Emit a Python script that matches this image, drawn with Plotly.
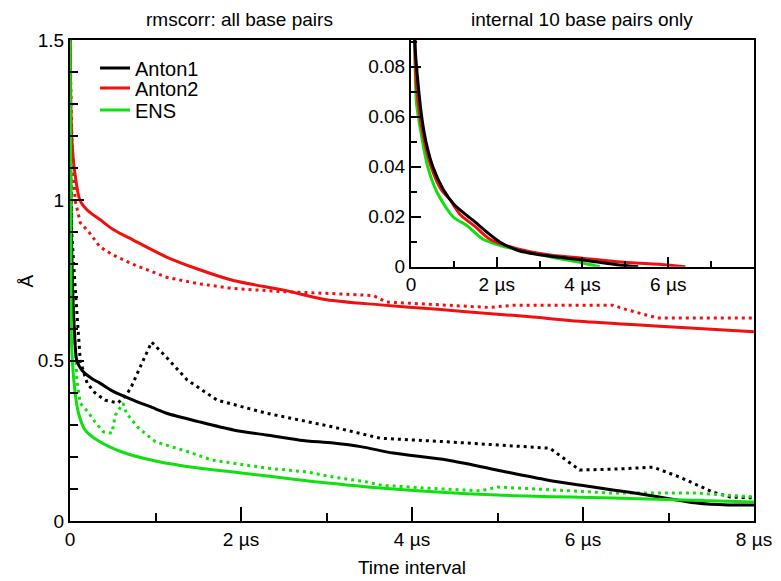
import plotly.graph_objects as go

# ---------------- data ----------------
# Main panel: rmscorr, all base pairs (x in microseconds, y in Angstrom)
anton1_x = [0, 0.01, 0.03, 0.05, 0.08, 0.14, 0.25, 0.35, 0.5, 0.74, 1.0, 1.13, 1.5, 1.91, 2.3, 2.69, 3.08, 3.4, 3.78, 4.41, 4.99, 5.58, 5.96, 6.35, 6.75, 7.33, 7.7, 8.0]
anton1_y = [1.5, 1.0, 0.72, 0.6, 0.5, 0.47, 0.445, 0.43, 0.405, 0.377, 0.35, 0.336, 0.31, 0.284, 0.268, 0.252, 0.243, 0.232, 0.212, 0.19, 0.159, 0.128, 0.112, 0.097, 0.081, 0.056, 0.05, 0.05]

anton1_dot_x = [0, 0.02, 0.06, 0.08, 0.12, 0.2, 0.29, 0.41, 0.56, 0.66, 0.72, 0.82, 0.955, 1.13, 1.37, 1.72, 2.3, 3.08, 3.63, 4.41, 5.61, 5.7, 5.96, 6.4, 6.82, 7.13, 7.52, 7.72, 8.0]
anton1_dot_y = [1.2, 0.9, 0.73, 0.65, 0.5, 0.43, 0.40, 0.377, 0.368, 0.393, 0.42, 0.48, 0.558, 0.51, 0.44, 0.377, 0.336, 0.293, 0.258, 0.247, 0.227, 0.21, 0.159, 0.162, 0.168, 0.137, 0.09, 0.075, 0.072]

anton2_x = [0, 0.02, 0.05, 0.117, 0.2, 0.35, 0.5, 0.74, 1.13, 1.5, 1.91, 2.5, 3.0, 3.63, 4.3, 5.0, 5.38, 5.96, 7.0, 8.0]
anton2_y = [1.5, 1.2, 1.1, 1.0, 0.97, 0.94, 0.91, 0.876, 0.823, 0.785, 0.75, 0.72, 0.69, 0.674, 0.66, 0.645, 0.637, 0.623, 0.606, 0.59]

anton2_dot_x = [0, 0.02, 0.06, 0.12, 0.23, 0.35, 0.5, 0.74, 1.13, 1.5, 1.91, 2.5, 3.0, 3.55, 3.7, 4.4, 4.9, 5.2, 6.35, 6.5, 6.87, 8.0]
anton2_dot_y = [1.5, 1.2, 1.0, 0.93, 0.898, 0.855, 0.83, 0.80, 0.76, 0.74, 0.725, 0.715, 0.71, 0.703, 0.683, 0.673, 0.666, 0.673, 0.673, 0.66, 0.633, 0.633]

ens_x = [0, 0.01, 0.02, 0.06, 0.1, 0.175, 0.33, 0.6, 1.0, 1.5, 1.91, 2.69, 3.63, 5.0, 6.35, 8.0]
ens_y = [1.5, 0.9, 0.54, 0.40, 0.336, 0.284, 0.25, 0.216, 0.187, 0.165, 0.153, 0.128, 0.103, 0.081, 0.072, 0.059]

ens_dot_x = [0, 0.02, 0.08, 0.12, 0.21, 0.29, 0.39, 0.49, 0.53, 0.62, 0.66, 0.8, 1.0, 1.38, 1.66, 2.3, 2.77, 3.08, 3.47, 3.63, 4.13, 4.8, 5.0, 6.35, 7.33, 8.0]
ens_dot_y = [1.5, 0.8, 0.44, 0.367, 0.34, 0.31, 0.278, 0.274, 0.33, 0.367, 0.336, 0.29, 0.247, 0.216, 0.19, 0.165, 0.153, 0.137, 0.122, 0.112, 0.103, 0.094, 0.106, 0.087, 0.087, 0.075]

# Inset: internal 10 base pairs only
in_anton1_x = [0, 0.09, 0.13, 0.25, 0.35, 0.51, 0.75, 1.0, 1.45, 2.08, 2.5, 3.0, 4.0, 4.8, 5.3]
in_anton1_y = [0.2, 0.09, 0.08, 0.06, 0.05, 0.04, 0.031, 0.025, 0.0185, 0.0098, 0.0065, 0.0048, 0.0027, 0.0008, 0.0]
in_anton2_x = [0, 0.09, 0.13, 0.28, 0.47, 0.7, 0.9, 1.14, 1.5, 1.84, 2.47, 3.24, 4.0, 4.8, 5.97, 6.4]
in_anton2_y = [0.2, 0.09, 0.072, 0.053, 0.04, 0.031, 0.027, 0.021, 0.016, 0.011, 0.0072, 0.0047, 0.0034, 0.002, 0.0007, 0.0]
in_ens_x = [0, 0.09, 0.13, 0.25, 0.39, 0.6, 0.98, 1.3, 1.68, 2.08, 3.24, 4.0, 4.4]
in_ens_y = [0.2, 0.085, 0.065, 0.052, 0.04, 0.03, 0.02, 0.0165, 0.011, 0.0085, 0.004, 0.0015, 0.0]

main_xticks = [0, 2, 4, 6, 8]
main_xlabels = ["0", "2 µs", "4 µs", "6 µs", "8 µs"]
main_yticks = [0, 0.5, 1, 1.5]
main_ylabels = ["0", "0.5", "1", "1.5"]
inset_xticks = [0, 2, 4, 6]
inset_xlabels = ["0", "2 µs", "4 µs", "6 µs"]
inset_yticks = [0, 0.02, 0.04, 0.06, 0.08]
inset_ylabels = ["0", "0.02", "0.04", "0.06", "0.08"]

BLACK = "#000000"
RED = "#f01010"
GREEN = "#10e010"
FONT = "Liberation Sans, Arial, sans-serif"
DOT = "3px,4px"

fig = go.Figure()

def add(x, y, color, name=None, dash="solid", xa="x", ya="y", legend=None, shape="spline"):
    fig.add_trace(go.Scatter(
        x=x, y=y, mode="lines", name=name, showlegend=legend is not None,
        legend=legend if legend else "legend",
        line=dict(color=color, width=3, dash=dash, shape=shape, smoothing=0.8),
        xaxis=xa, yaxis=ya, hoverinfo="skip"))

# main panel
add(anton1_dot_x, anton1_dot_y, BLACK, dash=DOT, shape="linear")
add(anton2_dot_x, anton2_dot_y, RED, dash=DOT, shape="linear")
add(ens_dot_x, ens_dot_y, GREEN, dash=DOT, shape="linear")
add(anton1_x, anton1_y, BLACK, name="Anton1", legend="legend")
add(anton2_x, anton2_y, RED, name="Anton2", legend="legend2")
add(ens_x, ens_y, GREEN, name="ENS", legend="legend3")

# inset
add(in_ens_x, in_ens_y, GREEN, xa="x2", ya="y2")
add(in_anton2_x, in_anton2_y, RED, xa="x2", ya="y2")
add(in_anton1_x, in_anton1_y, BLACK, xa="x2", ya="y2")

TICKFONT = dict(family=FONT, size=19, color="black")
axis_common = dict(showgrid=False, zeroline=False, showline=True, linecolor="black",
                   linewidth=2, mirror=True, ticks="inside", tickwidth=2, tickcolor="black",
                   tickfont=TICKFONT, automargin=False)

def leg(y):
    return dict(x=0.0366, y=y, xanchor="left", yanchor="middle",
                bgcolor="rgba(0,0,0,0)", font=dict(family=FONT, size=20), itemwidth=30)

# the page body adds an 8px offset, so the figure is 773x573 inside the 781x581 window
fig.update_layout(
    width=773, height=573,
    margin=dict(l=62, r=27, t=32, b=60),
    paper_bgcolor="white", plot_bgcolor="white",
    font=dict(family=FONT, size=19, color="black"),
    showlegend=True,
    legend=leg(0.9418),
    legend2=leg(0.9002),
    legend3=leg(0.8545),
    xaxis=dict(domain=[0, 1], range=[0, 8], tickvals=main_xticks, ticktext=main_xlabels,
               ticklen=14, minor=dict(ticks="inside", ticklen=8, tickwidth=2, dtick=1, tickcolor="black"),
               title=dict(text="Time interval", font=dict(family=FONT, size=19), standoff=12),
               anchor="y", **axis_common),
    yaxis=dict(domain=[0, 1], range=[0, 1.5], tickvals=main_yticks, ticktext=main_ylabels,
               ticklen=14, minor=dict(ticks="inside", ticklen=8, tickwidth=2, dtick=0.1, tickcolor="black"),
               anchor="x", **axis_common),
    xaxis2=dict(domain=[0.4985, 1], range=[0, 8], tickvals=inset_xticks, ticktext=inset_xlabels,
                ticklen=10, minor=dict(ticks="inside", ticklen=6, tickwidth=2, dtick=1, tickcolor="black"),
                anchor="y2", **axis_common),
    yaxis2=dict(domain=[0.5287, 1], range=[0, 0.0907], tickvals=inset_yticks, ticktext=inset_ylabels,
                ticklen=10, minor=dict(ticks="inside", ticklen=6, tickwidth=2, dtick=0.01, tickcolor="black"),
                anchor="x2", **axis_common),
    annotations=[
        dict(text="rmscorr: all base pairs", x=0.2485, y=1.0665, xref="paper", yref="paper",
             showarrow=False, xanchor="center", yanchor="top", borderpad=0,
             font=dict(family=FONT, size=19)),
        dict(text="internal 10 base pairs only", x=0.7485, y=1.0665, xref="paper", yref="paper",
             showarrow=False, xanchor="center", yanchor="top", borderpad=0,
             font=dict(family=FONT, size=19)),
        dict(text="Å", x=-0.0629, y=0.5, xref="paper", yref="paper", textangle=-90,
             showarrow=False, xanchor="center", yanchor="middle",
             font=dict(family=FONT, size=19)),
    ],
)

fig.write_html("out.html")
